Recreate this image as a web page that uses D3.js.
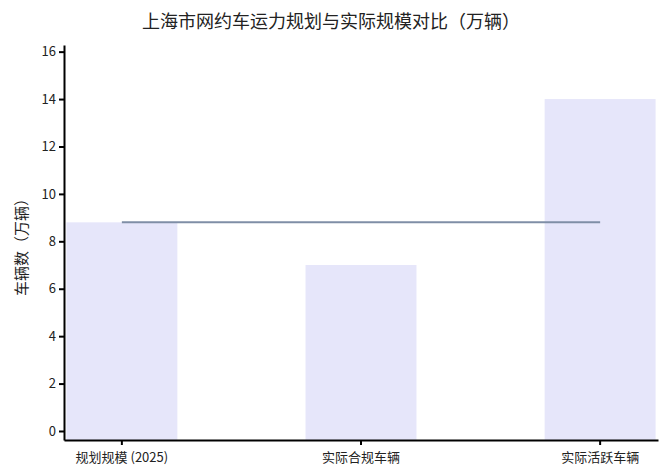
<!DOCTYPE html>
<meta charset="utf-8">
<script src="https://d3js.org/d3.v7.min.js"></script>
<style>
  body { margin: 0; background: #fff; }
  text { font-family: "Noto Sans CJK SC", "Noto Sans", sans-serif; }
</style>
<div id="chart"></div>
<script>
  // data
  const categories = ["规划规模 (2025)", "实际合规车辆", "实际活跃车辆"];
  const values = [8.8, 7, 14];
  const planValue = 8.8;
  const yTicks = [0, 2, 4, 6, 8, 10, 12, 14, 16];

  const width = 660, height = 469;
  const margin = { top: 45, right: 2, bottom: 29, left: 64 };

  const svg = d3.select("#chart").append("svg")
    .attr("width", width)
    .attr("height", height);

  const x = d3.scaleBand()
    .domain(categories)
    .range([margin.left, width - margin.right])
    .paddingInner(0.536)
    .paddingOuter(0.01);

  const y = d3.scaleLinear()
    .domain([-0.38, 16.28])
    .range([height - margin.bottom, margin.top]);

  // bars
  svg.selectAll("rect.bar")
    .data(values)
    .join("rect")
    .attr("class", "bar")
    .attr("x", (d, i) => x(categories[i]))
    .attr("width", x.bandwidth())
    .attr("y", d => y(d))
    .attr("height", d => y(y.domain()[0]) - y(d))
    .attr("fill", "#e6e6fa");

  // planned level line across the bar centres
  const cx = c => x(c) + x.bandwidth() / 2;
  svg.append("line")
    .attr("x1", cx(categories[0]))
    .attr("x2", cx(categories[categories.length - 1]))
    .attr("y1", y(planValue))
    .attr("y2", y(planValue))
    .attr("stroke", "#7f8ea6")
    .attr("stroke-width", 2);

  // axes
  const yAxis = svg.append("g")
    .attr("transform", `translate(${margin.left},0)`)
    .call(d3.axisLeft(y).tickValues(yTicks).tickSize(5).tickSizeOuter(0));
  yAxis.select(".domain").attr("stroke-width", 2);
  yAxis.selectAll(".tick line").attr("stroke-width", 2);
  yAxis.selectAll(".tick text").attr("font-size", 13).attr("fill", "#222");

  const xAxis = svg.append("g")
    .attr("transform", `translate(0,${height - margin.bottom})`)
    .call(d3.axisBottom(x).tickSize(5).tickSizeOuter(0));
  xAxis.select(".domain").attr("stroke-width", 2);
  xAxis.selectAll(".tick line").attr("stroke-width", 2);
  xAxis.selectAll(".tick text").attr("font-size", 13).attr("fill", "#222").attr("dy", "1.05em");

  // title and y label
  svg.append("text")
    .attr("x", width / 2 + 1)
    .attr("y", 28)
    .attr("text-anchor", "middle")
    .attr("font-size", 18)
    .attr("fill", "#222")
    .text("上海市网约车运力规划与实际规模对比（万辆）");

  svg.append("text")
    .attr("transform", `translate(27,${(margin.top + height - margin.bottom) / 2 + 1}) rotate(-90)`)
    .attr("text-anchor", "middle")
    .attr("font-size", 15)
    .attr("fill", "#222")
    .text("车辆数（万辆）");
</script>
